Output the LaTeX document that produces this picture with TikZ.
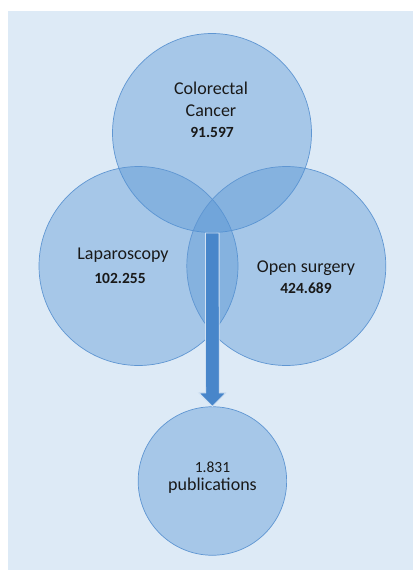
\documentclass[tikz,border=0pt]{standalone}
\usepackage{fontspec}
\setmainfont{Carlito}
\usetikzlibrary{calc}
\definecolor{bgblue}{RGB}{221,234,246}
\definecolor{circfill}{RGB}{84,147,211}
\definecolor{circline}{RGB}{95,150,210}
\definecolor{arrowblue}{RGB}{72,134,202}
\definecolor{txt}{RGB}{25,25,25}
\begin{document}
\begin{tikzpicture}[x=1pt,y=-1pt,
  venn/.style={circle, draw=circline, line width=0.7pt, fill=circfill, fill opacity=0.4, inner sep=0pt},
  lbl/.style={text=txt, font=\fontsize{18}{21.5}\selectfont, align=center, inner sep=0pt, anchor=base},
  num/.style={text=txt, font=\fontsize{15.5}{18}\selectfont\bfseries, inner sep=0pt, anchor=base},
  numreg/.style={text=txt, font=\fontsize{15.5}{18}\selectfont, inner sep=0pt, anchor=base}]
\useasboundingbox (0,0) rectangle (413,572);
\fill[white] (0,0) rectangle (413,572);
\fill[bgblue] (8,11) rectangle (413,570);
% circles
\node[venn, minimum size=199pt] (cc) at (212,133) {};
\node[venn, minimum size=199pt] (lap) at (138.5,266) {};
\node[venn, minimum size=199pt] (open) at (286.3,266) {};
\node[venn, minimum size=148.5pt] (pub) at (212.4,481) {};
% labels
\node[lbl] (t1) at (211,95) {Colorectal};
\node[lbl] (t2) at (211,116.5) {Cancer};
\node[num] (n1) at (212,138) {91.597};
\node[lbl] (t3) at (123,259.5) {Laparoscopy};
\node[num] (n2) at (120,283) {102.255};
\node[lbl] (t4) at (306,272) {Open surgery};
\node[num] (n3) at (306,293) {424.689};
\node[numreg] (n4) at (212.5,472) {1.831};
\node[lbl] (t5) at (212.5,490) {publications};
% arrow
\coordinate (as) at (212.3,233);
\filldraw[fill=arrowblue, draw=white!75!arrowblue, line width=0.8pt, line join=miter]
  ($(as)+(-6.8,0)$) -- ($(as)+(6.8,0)$) -- ($(pub.north)+(6.8,-13.5)$) -- ($(pub.north)+(13.5,-13.5)$)
  -- (pub.north) -- ($(pub.north)+(-13.5,-13.5)$) -- ($(pub.north)+(-6.8,-13.5)$) -- cycle;
\end{tikzpicture}
\end{document}
